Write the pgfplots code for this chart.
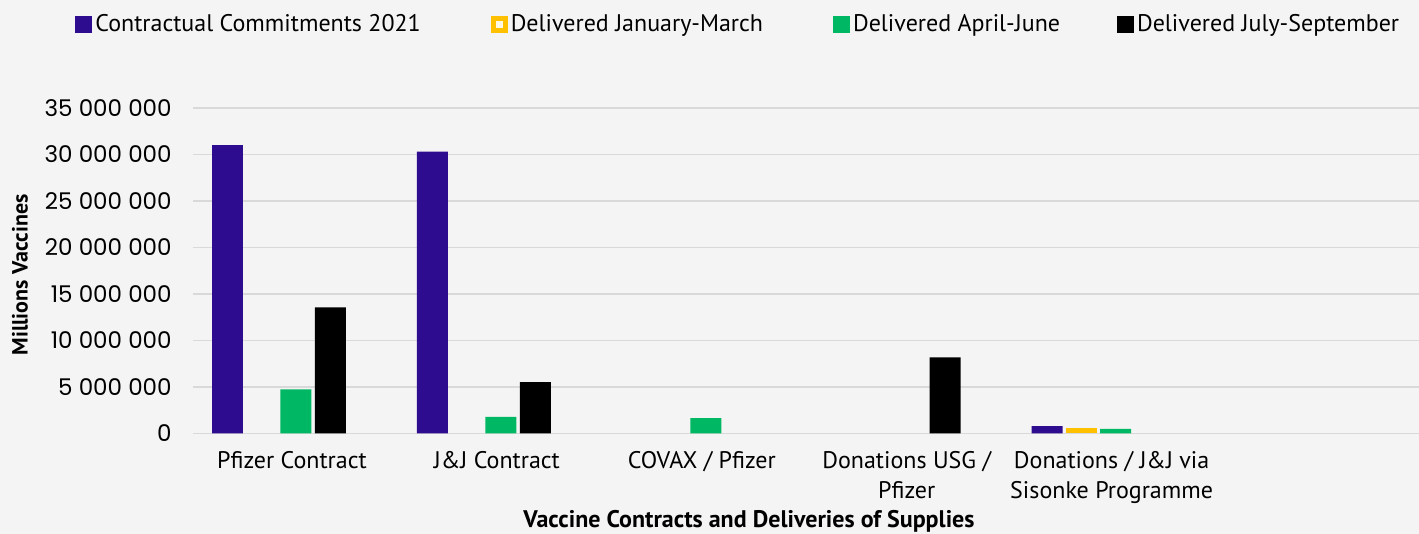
\documentclass[border=0pt]{standalone}
\usepackage{pgfplots}
\pgfplotsset{compat=1.18}
\usepackage{fontspec}
\setmainfont{PT Sans}
\newfontfamily\tickfont{Poppins}
\definecolor{bg}{HTML}{F4F4F4}
\definecolor{gridc}{HTML}{D9D9D9}
\definecolor{cpurple}{HTML}{2D0C8F}
\definecolor{cyellow}{HTML}{FFC000}
\definecolor{cgreen}{HTML}{00B864}
\begin{document}
\begin{tikzpicture}
\fill[bg, use as bounding box] (-96.5pt,-50.25pt) rectangle (613pt,216.75pt);
\begin{axis}[
  scale only axis,
  width=613pt, height=162.75pt,
  ybar,
  bar width=0.151,
  xmin=-0.483, xmax=5.5,
  ymin=0, ymax=35000000,
  scaled y ticks=false,
  axis line style={draw=none},
  major tick length=0pt,
  xtick={0,1,2,3,4},
  xticklabels={Pfizer Contract, J\&J Contract, COVAX / Pfizer, {Donations USG /\\ Pfizer}, {Donations / J\&J via\\ Sisonke Programme}},
  xticklabel style={font=\fontsize{12}{15}\selectfont, align=center, anchor=north, inner sep=0pt, yshift=-9pt},
  ytick={0,5000000,10000000,15000000,20000000,25000000,30000000,35000000},
  yticklabels={0,5 000 000,10 000 000,15 000 000,20 000 000,25 000 000,30 000 000,35 000 000},
  yticklabel style={font=\tickfont\fontsize{11.5}{12}\selectfont, anchor=east, inner sep=0pt, xshift=-10.5pt},
  ymajorgrids,
  major grid style={gridc, line width=0.9pt},
  ylabel={Millions Vaccines},
  ylabel style={font=\bfseries\fontsize{11}{12}\selectfont, at={(axis description cs:-0.1411,0.487)}, anchor=center},
  xlabel={Vaccine Contracts and Deliveries of Supplies},
  xlabel style={font=\bfseries\fontsize{12}{13}\selectfont, at={(axis description cs:0.4535,-0.2688)}, anchor=center},
  legend columns=4,
  legend style={at={(axis description cs:-0.0962,1.258)}, anchor=west, draw=none, fill=none, inner sep=0pt,
    font=\fontsize{12}{14}\selectfont,
    nodes={inner sep=0pt},
    /tikz/every odd column/.append style={column sep=1.5pt},
    /tikz/every even column/.append style={column sep=35pt}},
  legend image code/.code={\fill[#1] (0pt,-4.25pt) rectangle (8.5pt,4.25pt);},
]
\addplot[fill=cpurple, draw=none, bar shift=-0.3146] coordinates {(0,31000000) (1,30300000) (4,790000)};
\addlegendentry{Contractual Commitments 2021}
\addplot[fill=cyellow, draw=none, bar shift=-0.1463,
  legend image code/.code={\fill[cyellow] (0pt,-4.25pt) rectangle (8.5pt,4.25pt); \fill[white!90!cyellow] (2.5pt,-1.75pt) rectangle (6pt,1.75pt);}] coordinates {(4,570000)};
\addlegendentry{Delivered January-March}
\addplot[fill=cgreen, draw=none, bar shift=0.0195] coordinates {(0,4740000) (1,1800000) (2,1650000) (4,500000)};
\addlegendentry{Delivered April-June\kern-6.5pt}
\addplot[fill=black, draw=none, bar shift=0.1878] coordinates {(0,13570000) (1,5530000) (3,8180000)};
\addlegendentry{Delivered July-September}
\end{axis}
\end{tikzpicture}
\end{document}
